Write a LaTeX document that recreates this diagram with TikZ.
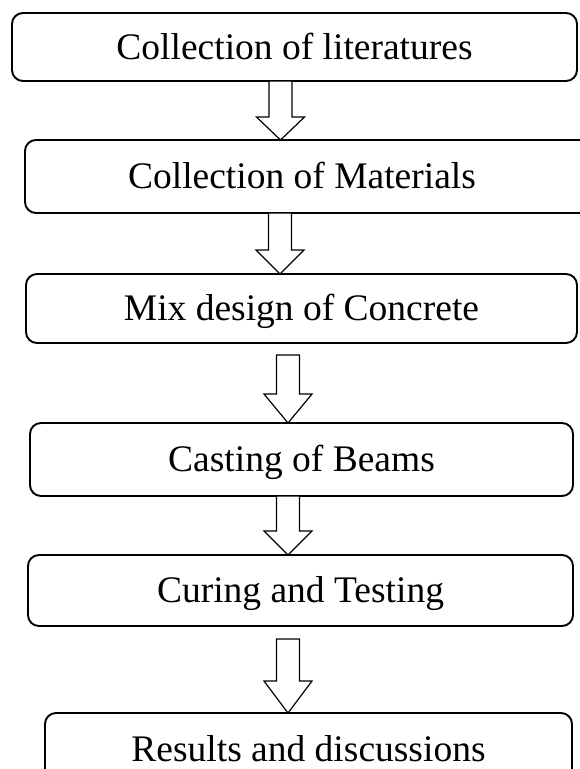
\documentclass[tikz,border=0pt]{standalone}
\usepackage{fontspec}
\setmainfont{Liberation Serif}
\usetikzlibrary{calc}
\tikzset{
  stepbox/.style={draw=black, line width=1.9pt, rounded corners=11pt, fill=white,
    inner sep=0pt, outer sep=0pt, text height=32pt, text depth=7.5pt,
    font=\fontsize{37.5pt}{44pt}\selectfont},
  blockarrow/.style={draw=black, line width=1.2pt, fill=white, line join=miter}
}
% #1 from node, #2 to node, #3 centre x, #4 gap below source, #5 head length
\newcommand\flowarrow[5]{%
  \draw[blockarrow] let \p1=(#1.south), \p2=(#2.north) in
    ({(#3-11.5)*1pt},{\y1-#4*1pt}) -- ({(#3-11.5)*1pt},{\y2+#5*1pt})
    -- ({(#3-24)*1pt},{\y2+#5*1pt}) -- ({#3*1pt},\y2)
    -- ({(#3+24)*1pt},{\y2+#5*1pt}) -- ({(#3+11.5)*1pt},{\y2+#5*1pt})
    -- ({(#3+11.5)*1pt},{\y1-#4*1pt}) -- cycle;}
\begin{document}
\begin{tikzpicture}[x=1pt,y=-1pt]
\useasboundingbox (0,0) rectangle (580,769);
\clip (0,0) rectangle (580,769);
\fill[white] (0,0) rectangle (580,769);

\node[stepbox, minimum width=565pt, minimum height=68pt] (b1) at (294.5,47) {Collection of literatures};
\node[stepbox, minimum width=575pt, minimum height=73pt] (b2) at (312.5,176.5) {\hspace*{-21pt}Collection of Materials};
\node[stepbox, minimum width=551pt, minimum height=69pt] (b3) at (301.5,308.5) {Mix design of Concrete};
\node[stepbox, minimum width=543pt, minimum height=73pt] (b4) at (301.5,459.5) {Casting of Beams};
\node[stepbox, minimum width=545pt, minimum height=71pt] (b5) at (300.5,590.5) {Curing and Testing};
\node[stepbox, minimum width=527pt, minimum height=72pt] (b6) at (308.5,749) {Results and discussions};

\flowarrow{b1}{b2}{280.5}{0}{23}
\flowarrow{b2}{b3}{280}{0}{24}
\flowarrow{b3}{b4}{288}{12}{29}
\flowarrow{b4}{b5}{288}{0}{24}
\flowarrow{b5}{b6}{288}{13}{32}
\end{tikzpicture}
\end{document}
